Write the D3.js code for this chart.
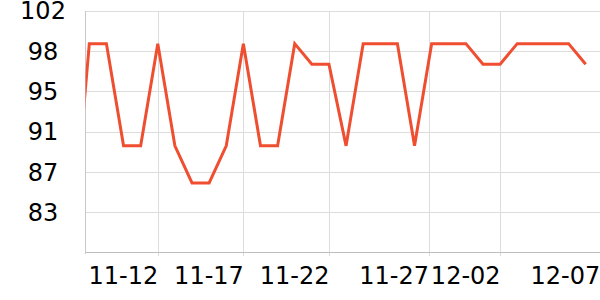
<!DOCTYPE html>
<html>
<head>
<meta charset="utf-8">
<script src="https://cdn.jsdelivr.net/npm/d3@7"></script>
<style>
  body { margin: 0; background: #fff; }
  svg { display: block; font-family: "DejaVu Sans", sans-serif; }
</style>
</head>
<body>
<div id="chart"></div>
<script>
// daily values, one per day starting 11-07
var startDay = [2023, 10, 7];
var values = [80.7, 98.95, 98.95, 89.54, 89.54, 98.95, 89.54, 86.13, 86.13, 89.54,
              98.95, 89.54, 89.54, 98.95, 97.05, 97.05, 89.54, 98.95, 98.95, 98.95,
              89.54, 98.95, 98.95, 98.95, 97.05, 97.05, 98.95, 98.95, 98.95, 98.95,
              97.05];
var xTickDates = ["2023-11-12T00:00", "2023-11-17T00:00", "2023-11-22T00:00",
                  "2023-11-27T19:40", "2023-12-02T00:00", "2023-12-07T19:40"];
var xTickLabels = ["11-12", "11-17", "11-22", "11-27", "12-02", "12-07"];
var yTicks = [102, 98.29, 94.57, 90.86, 87.14, 83.43];
var yTickLabels = ["102", "98", "95", "91", "87", "83"];
var yMin = 79.72, yMax = 102;

var w = 600, h = 300;
var plotLeft = 85.5, plotRight = 600, plotTop = 10.5, plotBottom = 252.5;

var data = values.map(function(v, i) {
  return { date: new Date(startDay[0], startDay[1], startDay[2] + i), value: v };
});

var svg = d3.select("#chart").append("svg")
  .attr("width", w)
  .attr("height", h);

var x = d3.scaleTime()
  .domain([data[0].date, data[data.length - 1].date])
  .range([72.2, 585.7]);

var y = d3.scaleLinear()
  .domain([yMin, yMax])
  .range([plotBottom, plotTop]);

// horizontal grid + y labels
var yAxis = d3.axisLeft(y)
  .tickValues(yTicks)
  .tickFormat(function(d, i) { return yTickLabels[i]; })
  .tickSize(0);

var gy = svg.append("g")
  .attr("transform", "translate(" + plotLeft + ",0)")
  .call(yAxis);
gy.select(".domain").remove();
gy.selectAll(".tick line").remove();
gy.selectAll(".tick").append("line")
  .attr("x1", 0).attr("x2", plotRight - plotLeft)
  .attr("stroke", "#dcdcdc").attr("stroke-width", 1)
  .attr("shape-rendering", "crispEdges");
gy.selectAll(".tick text")
  .attr("x", 43 - plotLeft)
  .attr("dy", "0.35em")
  .attr("text-anchor", "middle")
  .attr("font-size", "24px")
  .attr("font-family", "DejaVu Sans, sans-serif")
  .attr("fill", "#000");

// vertical grid + x labels
var tickDates = xTickDates.map(function(s) { return new Date(s); });
var xAxis = d3.axisBottom(x)
  .tickValues(tickDates)
  .tickFormat(function(d, i) { return xTickLabels[i]; })
  .tickSize(0);

var gx = svg.append("g")
  .attr("transform", "translate(0," + plotBottom + ")")
  .call(xAxis);
gx.select(".domain").remove();
gx.selectAll(".tick line").remove();
gx.selectAll(".tick")
  .filter(function(d) { return x(d) < plotRight - 2; })
  .append("line")
  .attr("y1", plotTop - plotBottom).attr("y2", 3)
  .attr("stroke", "#dcdcdc").attr("stroke-width", 1)
  .attr("shape-rendering", "crispEdges");
gx.selectAll(".tick text")
  .attr("y", 31)
  .attr("dy", 0)
  .attr("text-anchor", "end")
  .attr("font-size", "24px")
  .attr("font-family", "DejaVu Sans, sans-serif")
  .attr("fill", "#000");

// axis lines
svg.append("line")
  .attr("x1", plotLeft).attr("x2", plotLeft)
  .attr("y1", plotTop).attr("y2", plotBottom + 1)
  .attr("stroke", "#c8c8c8")
  .attr("shape-rendering", "crispEdges");
svg.append("line")
  .attr("x1", plotLeft).attr("x2", plotRight)
  .attr("y1", plotBottom).attr("y2", plotBottom)
  .attr("stroke", "#bdbdbd")
  .attr("shape-rendering", "crispEdges");

// clip + line
svg.append("clipPath").attr("id", "plot-clip")
  .append("rect")
  .attr("x", plotLeft).attr("y", 0)
  .attr("width", plotRight - plotLeft).attr("height", h);

var line = d3.line()
  .x(function(d) { return x(d.date); })
  .y(function(d) { return y(d.value); });

svg.append("path")
  .datum(data)
  .attr("clip-path", "url(#plot-clip)")
  .attr("fill", "none")
  .attr("stroke", "#ef4e30")
  .attr("stroke-width", 3)
  .attr("stroke-linejoin", "miter")
  .attr("d", line);
</script>
</body>
</html>
